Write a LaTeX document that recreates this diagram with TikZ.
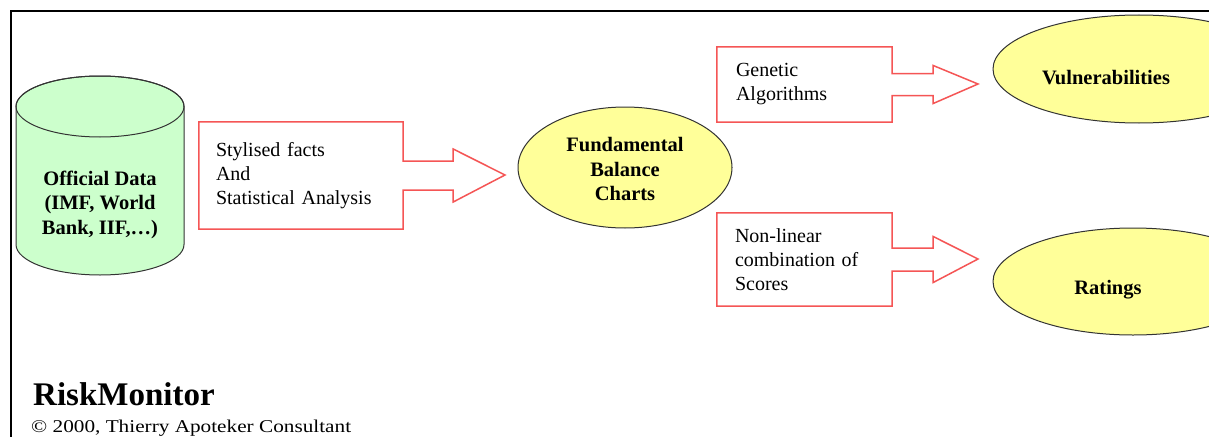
\documentclass[tikz,border=0pt]{standalone}
\usepackage{fontspec}
\setmainfont{Liberation Serif}
\newfontfamily\widefont[FakeStretch=1.18]{Liberation Serif}
\usetikzlibrary{shapes.geometric,calc}
\definecolor{boxred}{RGB}{245,85,85}
\definecolor{cylgreen}{RGB}{204,255,204}
\definecolor{bubbleyellow}{RGB}{255,255,153}
\newcommand{\boxarrow}[5]{%
\draw [arrowline] (#1.north west) -- (#1.north east) |- ($(#1.east)+(#4,-#3)$)
  -- ($(#1.east)+(#4,-#5)$) -- (#2) -- ($(#1.east)+(#4,#5)$)
  -- ($(#1.east)+(#4,#3)$) -| (#1.south east) -- (#1.south west) -- cycle;}

\begin{document}
\begin{tikzpicture}[x=1pt,y=-1pt]
\tikzstyle{every node}+=[inner sep=0pt]
\tikzstyle{arrowline}=[draw=boxred,line width=1.5pt]
\tikzstyle{notebox}=[rectangle,align=left,font=\fontsize{20}{24}\selectfont]
\tikzstyle{bubble}=[ellipse,draw=black!80,line width=1pt,fill=bubbleyellow]
\tikzstyle{boldtext}=[align=center,font=\fontsize{20.5}{24.5}\selectfont\bfseries]
\useasboundingbox (0,0) rectangle (1209,436);
\clip (0,0) rectangle (1209,436);
\fill [white] (0,0) rectangle (1209,436);
\draw [black,line width=2pt] (11,440) -- (11,11) -- (1212,11);
\draw [black!80,line width=1pt,fill=cylgreen] (16,106.5) -- (16,244.5)
  arc [start angle=180,end angle=0,x radius=84,y radius=30.5] -- (184,106.5)
  arc [start angle=0,end angle=-180,x radius=84,y radius=30.5] -- cycle;
\draw [black!80,line width=1pt] (100,106.5) ellipse [x radius=84,y radius=30.5];
\node [boldtext] (data) at (100,204.5) {Official Data\\(IMF, World\\Bank, IIF,\ldots)};
\node [notebox,minimum width=204,minimum height=107,text width=170] (facts) at (301,175.5) {Stylised facts\\And\\Statistical Analysis};
\coordinate (factstip) at (505,175);
\boxarrow{facts}{factstip}{14.5}{50}{26.5}
\node [bubble,minimum width=214,minimum height=121] (fbc) at (625,167.5) {};
\node [boldtext] (fbctext) at (625,169) {Fundamental\\Balance\\Charts};
\node [notebox,minimum width=175,minimum height=75,text width=137] (genetic) at (804.5,84.5) {Genetic\\Algorithms};
\coordinate (genetictip) at (978,84);
\boxarrow{genetic}{genetictip}{11}{41}{19}
\node [notebox,minimum width=175,minimum height=93,text width=139] (nonlin) at (804.5,259.5) {Non-linear\\combination of\\Scores};
\coordinate (nonlintip) at (978,259);
\boxarrow{nonlin}{nonlintip}{11.5}{41}{23}
\node [bubble,minimum width=292,minimum height=108] (vuln) at (1139,69) {};
\node [boldtext] (vulntext) at (1106,78) {Vulnerabilities};
\node [bubble,minimum width=280,minimum height=107] (ratings) at (1133,281.5) {};
\node [boldtext] (ratingstext) at (1108,290) {Ratings};
\node [anchor=base west,font=\fontsize{33}{36}\selectfont\bfseries] (title) at (33,405) {RiskMonitor};
\node [anchor=base west,font=\fontsize{18}{20}\widefont] (copyright) at (31,432) {© 2000, Thierry Apoteker Consultant};
\end{tikzpicture}
\end{document}
